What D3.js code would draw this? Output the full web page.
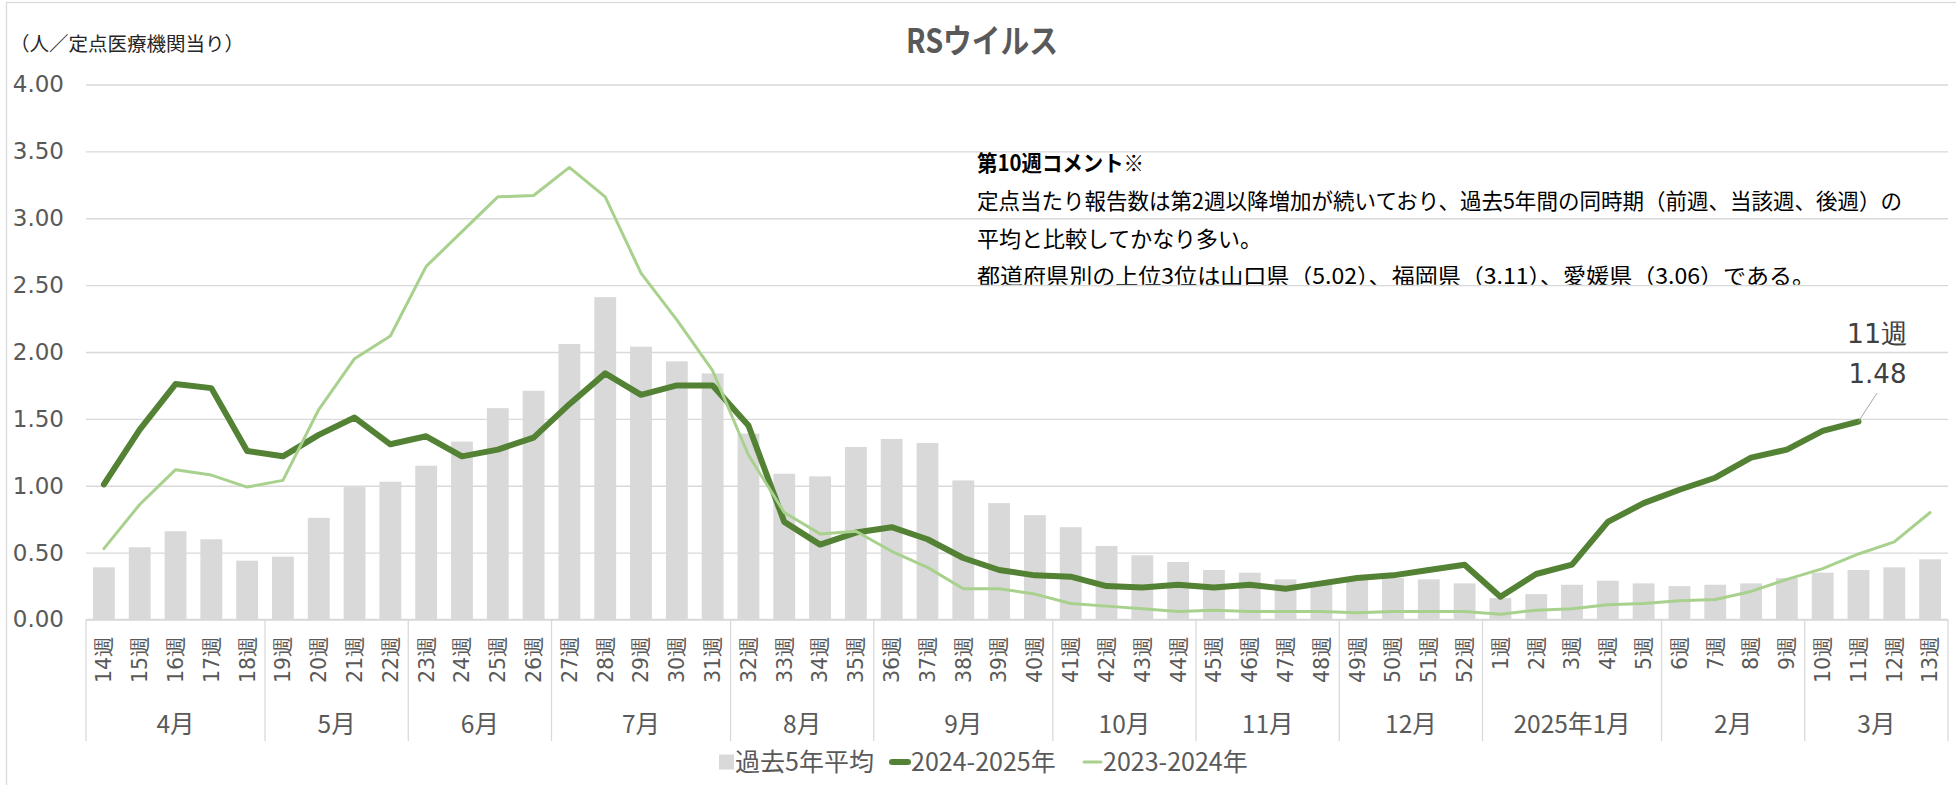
<!DOCTYPE html>
<html><head><meta charset="utf-8">
<script src="https://cdn.jsdelivr.net/npm/d3@7"></script>
<style>body{margin:0;background:#fff} svg{display:block}</style>
</head><body>
<svg id="c" width="1956" height="785"></svg>
<script>
const weeks = ["14週","15週","16週","17週","18週","19週","20週","21週","22週","23週","24週","25週","26週","27週","28週","29週","30週","31週","32週","33週","34週","35週","36週","37週","38週","39週","40週","41週","42週","43週","44週","45週","46週","47週","48週","49週","50週","51週","52週","1週","2週","3週","4週","5週","6週","7週","8週","9週","10週","11週","12週","13週"];
const avg5 = [0.39,0.54,0.66,0.60,0.44,0.47,0.76,0.99,1.03,1.15,1.33,1.58,1.71,2.06,2.41,2.04,1.93,1.84,1.39,1.09,1.07,1.29,1.35,1.32,1.04,0.87,0.78,0.69,0.55,0.48,0.43,0.37,0.35,0.30,0.27,0.30,0.31,0.30,0.27,0.16,0.19,0.26,0.29,0.27,0.25,0.26,0.27,0.31,0.35,0.37,0.39,0.45];
const s2425 = [1.01,1.42,1.76,1.73,1.26,1.22,1.38,1.51,1.31,1.37,1.22,1.27,1.36,1.61,1.84,1.68,1.75,1.75,1.45,0.73,0.56,0.65,0.69,0.60,0.46,0.37,0.33,0.32,0.25,0.24,0.26,0.24,0.26,0.23,0.27,0.31,0.33,0.37,0.41,0.17,0.34,0.41,0.73,0.87,0.97,1.06,1.21,1.27,1.41,1.48,null,null];
const s2324 = [0.53,0.86,1.12,1.08,0.99,1.04,1.57,1.95,2.12,2.64,2.90,3.16,3.17,3.38,3.16,2.59,2.24,1.86,1.23,0.80,0.64,0.66,0.51,0.39,0.23,0.23,0.19,0.12,0.10,0.08,0.06,0.07,0.06,0.06,0.06,0.05,0.06,0.06,0.06,0.04,0.07,0.08,0.11,0.12,0.14,0.15,0.21,0.30,0.38,0.49,0.58,0.80];
const yTicks = [0,0.5,1,1.5,2,2.5,3,3.5,4];
const months = ["4月","5月","6月","7月","8月","9月","10月","11月","12月","2025年1月","2月","3月"];
const monthSpans = [5,4,4,5,4,5,4,4,4,5,4,4];
const legendNames = ["過去5年平均","2024-2025年","2023-2024年"];
const titleText = "RSウイルス";
const unitLabel = "（人／定点医療機関当り）";
const commentLines = [
  "第10週コメント※",
  "定点当たり報告数は第2週以降増加が続いており、過去5年間の同時期（前週、当該週、後週）の",
  "平均と比較してかなり多い。",
  "都道府県別の上位3位は山口県（5.02）、福岡県（3.11）、愛媛県（3.06）である。"
];
const labelWeek = "11週";

const NUM = "'DejaVu Sans', Verdana, sans-serif";
const JP = "'Noto Sans CJK JP', sans-serif";
const GRAY = "#595959";
const DARK = "#548235", LIGHT = "#a9d18e", BAR = "#d9d9d9", GRID = "#d9d9d9";

const svg = d3.select("#c");
const pL = 86, pR = 1948, pT = 84.5, pB = 619.5;

const x = d3.scaleBand().domain(weeks).range([pL, pR]).paddingInner(0.39).paddingOuter(0.195);
const y = d3.scaleLinear().domain([0, 4]).range([pB, pT]);
const cx = w => x(w) + x.bandwidth() / 2;

// frame
svg.append("rect").attr("x", 6.5).attr("y", 2.5).attr("width", 2000).attr("height", 900)
  .attr("fill", "none").attr("stroke", "#d9d9d9").attr("stroke-width", 1.3);

// title
svg.append("text").attr("x", 982).attr("y", 52.5).attr("text-anchor", "middle")
  .attr("font-family", JP).attr("font-weight", "bold").attr("font-size", 33)
  .attr("textLength", 152).attr("lengthAdjust", "spacingAndGlyphs")
  .attr("fill", GRAY).text(titleText);

// unit label
svg.append("text").attr("x", 10).attr("y", 51).attr("font-family", JP).attr("font-size", 19.5)
  .attr("fill", "#262626").text(unitLabel);

// y axis with grid
const yAxis = svg.append("g").attr("transform", `translate(${pL},0)`)
  .call(d3.axisLeft(y).tickValues(yTicks).tickFormat(d3.format(".2f")).tickSize(-(pR - pL)).tickPadding(22));
yAxis.select(".domain").remove();
yAxis.selectAll(".tick line").attr("stroke", GRID).attr("stroke-width", 1.3);
yAxis.selectAll(".tick text").attr("font-family", NUM).attr("font-size", 23).attr("fill", GRAY);

// comment text (clipped at y=2.5 gridline)
svg.append("clipPath").attr("id", "cmtclip").append("rect")
  .attr("x", 900).attr("y", 100).attr("width", 1100).attr("height", y(2.5) - 100 - 0.3);
const cmt = svg.append("g").attr("clip-path", "url(#cmtclip)");
const cmtBase = [170.5, 208.5, 246.5, 283.5];
const cmtLen = [167, 925, 285, 838];
commentLines.forEach((t, i) => {
  cmt.append("text").attr("x", 977).attr("y", cmtBase[i])
    .attr("font-family", JP).attr("font-size", 22)
    .attr("font-weight", i === 0 ? "bold" : "normal")
    .attr("textLength", cmtLen[i]).attr("lengthAdjust", "spacingAndGlyphs")
    .attr("fill", "#000").text(t);
});

// bars
svg.append("g").selectAll("rect").data(avg5).join("rect")
  .attr("x", (d, i) => x(weeks[i])).attr("width", x.bandwidth())
  .attr("y", d => y(d)).attr("height", d => y(0) - y(d)).attr("fill", BAR);

// lines
const line = d3.line().defined(d => d != null).x((d, i) => cx(weeks[i])).y(d => y(d));
svg.append("path").datum(s2425).attr("d", line).attr("fill", "none")
  .attr("stroke", DARK).attr("stroke-width", 6).attr("stroke-linejoin", "round").attr("stroke-linecap", "round");
svg.append("path").datum(s2324).attr("d", line).attr("fill", "none")
  .attr("stroke", LIGHT).attr("stroke-width", 3).attr("stroke-linejoin", "round").attr("stroke-linecap", "round");

// x axis baseline
svg.append("line").attr("x1", pL).attr("x2", pR).attr("y1", pB).attr("y2", pB)
  .attr("stroke", GRID).attr("stroke-width", 1.3);

// week labels
const xAxis = svg.append("g").attr("transform", `translate(0,${pB})`)
  .call(d3.axisBottom(x).tickSize(0));
xAxis.select(".domain").remove();
xAxis.selectAll(".tick text")
  .attr("transform", "rotate(-90)").attr("x", -16.5).attr("y", 0).attr("dy", "0.36em")
  .style("text-anchor", "end")
  .attr("font-family", NUM).attr("font-size", 20.5).attr("fill", GRAY);

// month groups
const gap = (x.step() - x.bandwidth()) / 2;
let start = 0;
const bounds = [];
months.forEach((m, k) => {
  const s = start, e = start + monthSpans[k] - 1;
  const x0 = x(weeks[s]) - gap;
  const x1 = x(weeks[e]) + x.bandwidth() + gap;
  bounds.push(x0);
  if (k === months.length - 1) bounds.push(x1);
  svg.append("text").attr("x", (x0 + x1) / 2).attr("y", 733).attr("text-anchor", "middle")
    .attr("font-family", JP).attr("font-size", 24.5).attr("fill", GRAY).text(m);
  start += monthSpans[k];
});
svg.append("g").selectAll("line").data(bounds).join("line")
  .attr("x1", d => d).attr("x2", d => d).attr("y1", pB).attr("y2", 741)
  .attr("stroke", GRID).attr("stroke-width", 1.3);

// data label for last point
const li = weeks.indexOf(labelWeek);
const px = cx(labelWeek), py = y(s2425[li]);
svg.append("line").attr("x1", px).attr("y1", py).attr("x2", px + 18.5).attr("y2", py - 28.5)
  .attr("stroke", "#a6a6a6").attr("stroke-width", 1);
svg.append("text").attr("x", px + 19).attr("y", py - 38.5).attr("text-anchor", "middle")
  .attr("font-family", NUM).attr("font-size", 26).attr("fill", "#404040")
  .text(d3.format(".2f")(s2425[li]));
svg.append("text").attr("x", px + 19).attr("y", py - 79).attr("text-anchor", "middle")
  .attr("font-family", NUM).attr("font-size", 27).attr("fill", "#404040")
  .text(labelWeek);

// legend
const ly = 762;
const lg = svg.append("g");
lg.append("rect").attr("x", 719).attr("y", ly - 7.5).attr("width", 15).attr("height", 15).attr("fill", BAR);
lg.append("text").attr("x", 735).attr("y", ly + 9.3).attr("font-family", JP).attr("font-size", 25).attr("fill", GRAY).text(legendNames[0]);
lg.append("line").attr("x1", 892).attr("x2", 908).attr("y1", ly).attr("y2", ly)
  .attr("stroke", DARK).attr("stroke-width", 6).attr("stroke-linecap", "round");
lg.append("text").attr("x", 911).attr("y", ly + 9.3).attr("font-family", JP).attr("font-size", 25).attr("fill", GRAY).text(legendNames[1]);
lg.append("line").attr("x1", 1084).attr("x2", 1101).attr("y1", ly).attr("y2", ly)
  .attr("stroke", LIGHT).attr("stroke-width", 3).attr("stroke-linecap", "round");
lg.append("text").attr("x", 1103).attr("y", ly + 9.3).attr("font-family", JP).attr("font-size", 25).attr("fill", GRAY).text(legendNames[2]);
</script>
</body></html>
